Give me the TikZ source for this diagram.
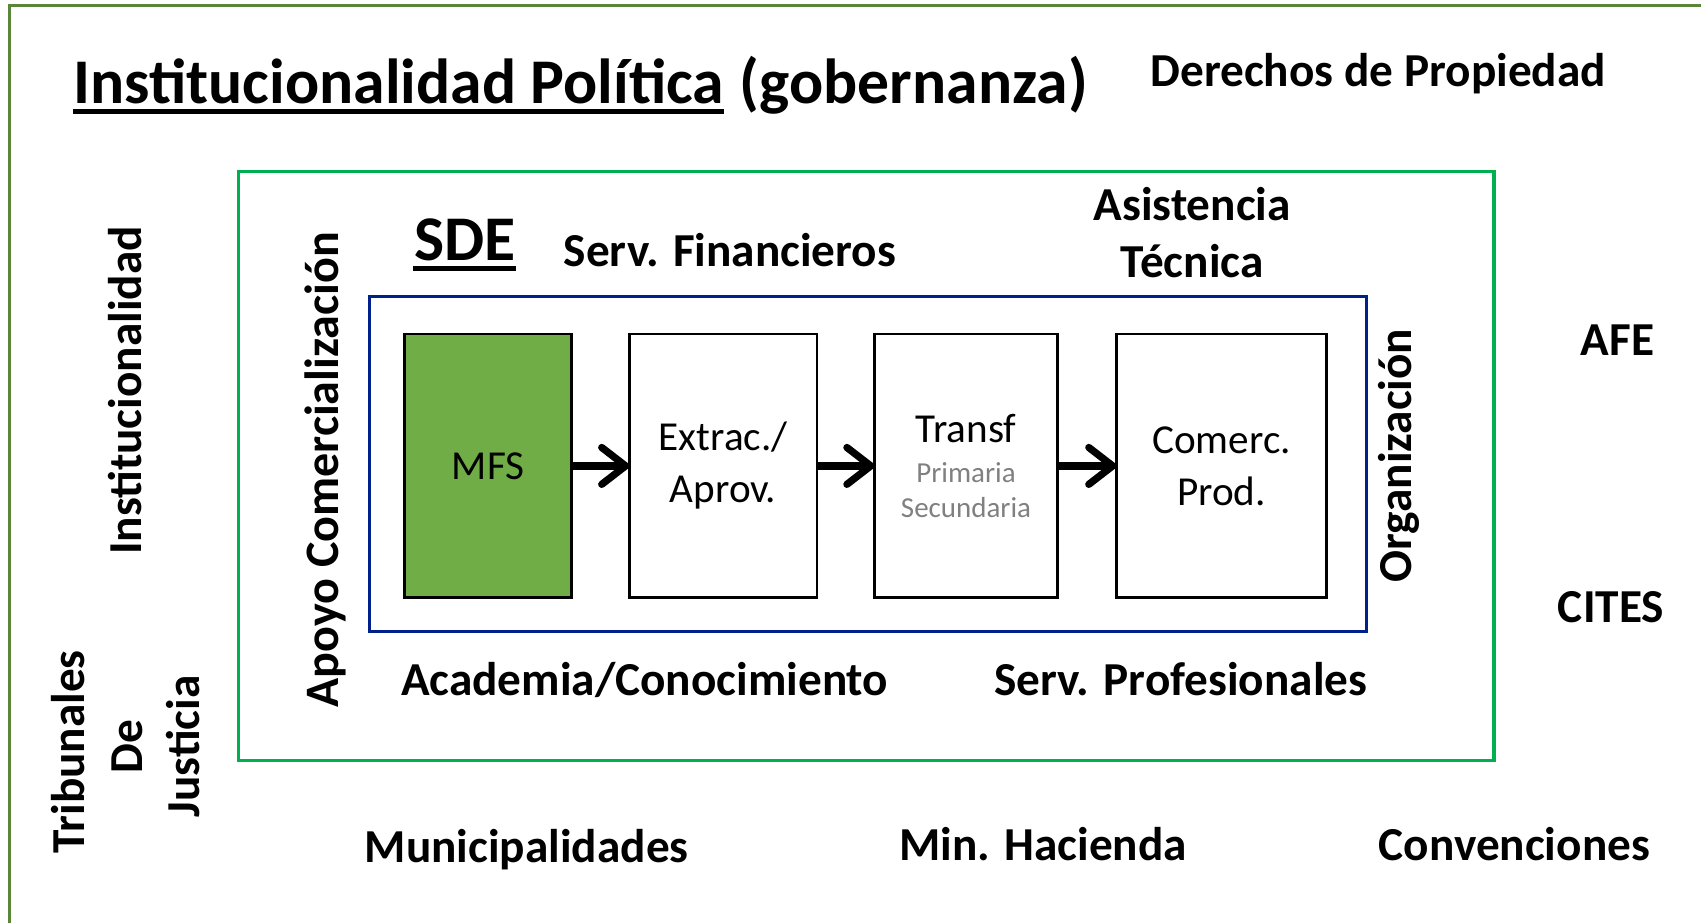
\documentclass[tikz,border=0pt]{standalone}
\usepackage{fontspec}
\setmainfont{Carlito}
\usetikzlibrary{positioning,arrows.meta}

\definecolor{framegreen}{RGB}{90,135,55}
\definecolor{sdegreen}{RGB}{0,176,80}
\definecolor{chainblue}{RGB}{0,32,140}
\definecolor{mfsgreen}{RGB}{112,173,71}
\definecolor{subgray}{RGB}{128,128,128}

\begin{document}
\begin{tikzpicture}[
    lbl/.style={font=\bfseries\fontsize{12.4}{14}\selectfont, inner sep=0pt, anchor=base},
    vlbl/.style={lbl, rotate=90},
    big/.style={font=\bfseries\fontsize{16.7}{20}\selectfont, inner sep=0pt, anchor=base west},
    underbar/.style={line width=1.2pt},
    chainbox/.style={rectangle, draw=black, line width=0.7pt, minimum width=#1, minimum height=2.43cm, inner sep=0pt, outer sep=0pt, align=center, font=\fontsize{10.8}{13.6}\selectfont},
    flow/.style={line width=1.9pt, -{Straight Barb[length=2.2mm,width=3.4mm,round]}}
]
    \useasboundingbox (0,0) rectangle (15.68,-8.50);

    % Frames
    \draw[framegreen, line width=0.9pt] (0.09,-9) -- (0.09,-0.05) -- (16,-0.05);
    \draw[sdegreen, line width=0.9pt] (2.20,-1.58) rectangle (13.77,-7.01);
    \draw[chainblue, line width=0.8pt] (3.41,-2.73) rectangle (12.60,-5.82);

    % Titles
    \node[big] (titulo) at (0.67,-0.95) {Institucionalidad Política};
    \node[big] (gobernanza) at ([xshift=3.8pt]titulo.base east) {(gobernanza)};
    \draw[underbar] ([yshift=-2.2pt]titulo.base west) -- ([yshift=-2.2pt]titulo.base east);
    \node[lbl] (derechos) at (12.705,-0.80) {Derechos de Propiedad};
    \node[big] (sde) at (3.81,-2.40) {SDE};
    \draw[underbar] ([yshift=-2.2pt]sde.base west) -- ([yshift=-2.2pt]sde.base east);

    % Chain
    \node[chainbox=1.54cm, fill=mfsgreen, anchor=north west] (mfs) at (3.73,-3.08) {MFS};
    \node[chainbox=1.73cm, right=0.53cm of mfs] (extrac) {Extrac./\\Aprov.};
    \node[chainbox=1.69cm, right=0.53cm of extrac] (transf) {Transf\\[-3.2pt]{\color{subgray}\fontsize{7.6}{9}\selectfont Primaria}\\[-4.4pt]{\color{subgray}\fontsize{7.6}{9}\selectfont Secundaria}};
    \node[chainbox=1.94cm, right=0.54cm of transf] (comerc) {Comerc.\\Prod.};

    \draw[flow] (mfs) -- (extrac);
    \draw[flow] (extrac) -- (transf);
    \draw[flow] (transf) -- (comerc);

    % Support services
    \node[lbl, anchor=base west] (financieros) at (5.19,-2.46) {Serv. Financieros};
    \node[lbl] (asistencia) at (10.99,-2.03) {Asistencia};
    \node[lbl] (tecnica) at (10.99,-2.56) {Técnica};
    \node[lbl, anchor=base west] (academia) at (3.69,-6.41) {Academia/Conocimiento};
    \node[lbl, anchor=base west] (profesionales) at (9.16,-6.41) {Serv. Profesionales};
    \node[vlbl, font=\bfseries\fontsize{12.6}{14}\selectfont] (apoyo) at (3.12,-4.33) {Apoyo Comercialización};
    \node[vlbl] (organizacion) at (13.01,-4.20) {Organización};

    % Institutions
    \node[vlbl] (institucionalidad) at (1.30,-3.60) {Institucionalidad};
    \node[vlbl] (tribunales) at (0.78,-6.93) {Tribunales};
    \node[vlbl] (de) at (1.31,-6.88) {De};
    \node[vlbl] (justicia) at (1.84,-6.88) {Justicia};
    \node[lbl] (afe) at (14.91,-3.28) {AFE};
    \node[lbl] (cites) at (14.85,-5.74) {CITES};
    \node[lbl] (municipalidades) at (4.855,-7.95) {Municipalidades};
    \node[lbl] (hacienda) at (9.615,-7.93) {Min. Hacienda};
    \node[lbl] (convenciones) at (13.96,-7.93) {Convenciones};

\end{tikzpicture}
\end{document}
